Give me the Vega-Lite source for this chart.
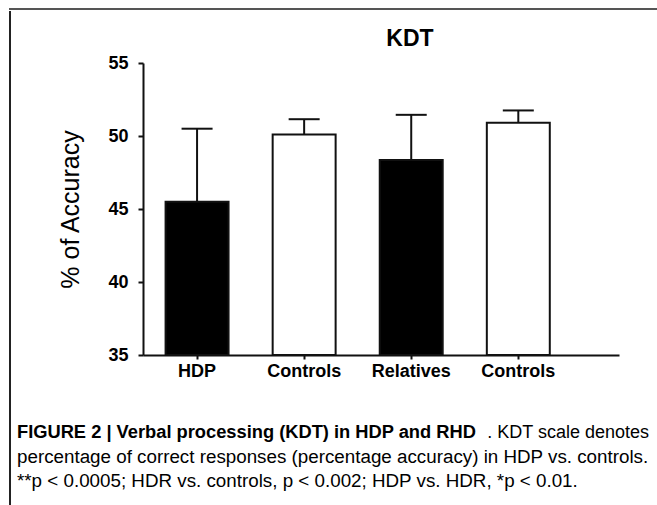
{
  "$schema": "https://vega.github.io/schema/vega-lite/v6.json",
  "padding": {"left": 9, "top": 8, "right": 0, "bottom": 0},
  "background": "white",
  "config": {
    "view": {"stroke": null},
    "font": "Liberation Sans, Arial, sans-serif"
  },
  "spacing": 0,
  "vconcat": [
    {
      "width": 647, "height": 0.001,
      "view": {"stroke": "#555", "strokeWidth": 2},
      "data": {"values": []},
      "mark": {"type": "point"},
      "encoding": {}
    },
    {
      "spacing": 5,
      "hconcat": [
        {
          "width": 0.001, "height": 496,
          "view": {"stroke": "#222", "strokeWidth": 2},
          "data": {"values": []},
          "mark": {"type": "point"},
          "encoding": {}
        },
        {
          "spacing": 15,
          "vconcat": [
            {
              "width": 0.001, "height": 0.001,
              "data": {"values": []},
              "mark": {"type": "point"},
              "encoding": {}
            },
            {
              "spacing": 41,
              "vconcat": [
                {
                  "title": {"text": "KDT", "fontSize": 23, "fontWeight": "bold", "color": "#000", "dx": 29, "offset": 3},
                  "width": 476,
                  "height": 292,
                  "data": {"values": [
                    {"group": "HDP", "kind": "patient", "mean": 45.5, "upper": 50.5},
                    {"group": "Controls_1", "kind": "control", "mean": 50.1, "upper": 51.15},
                    {"group": "Relatives", "kind": "patient", "mean": 48.35, "upper": 51.45},
                    {"group": "Controls_2", "kind": "control", "mean": 50.9, "upper": 51.75}
                  ]},
                  "encoding": {
                    "x": {
                      "field": "group", "type": "nominal", "sort": null,
                      "scale": {"paddingInner": 0.412, "paddingOuter": 0.4286, "align": 0.246},
                      "axis": {"title": null, "labelAngle": 0, "labelExpr": "split(datum.label, '_')[0]",
                               "tickSize": 4, "tickWidth": 2, "tickColor": "#111", "domainColor": "#111", "domainWidth": 2,
                               "labelFontSize": 18, "labelFontWeight": "bold", "labelColor": "#000", "labelPadding": 3}
                    }
                  },
                  "layer": [
                    {
                      "mark": {"type": "bar", "stroke": "#111", "strokeWidth": 2},
                      "encoding": {
                        "y": {"field": "mean", "type": "quantitative", "title": "% of Accuracy",
                              "scale": {"domain": [35, 55], "nice": false, "zero": false},
                              "axis": {"values": [35, 40, 45, 50, 55], "grid": false, "tickSize": 5, "tickWidth": 2,
                                       "tickColor": "#111", "domainColor": "#111", "domainWidth": 2,
                                       "labelFontSize": 18, "labelFontWeight": "bold", "labelColor": "#000", "labelPadding": 10,
                                       "titleFontSize": 25, "titleFontWeight": "normal", "titleColor": "#000", "titlePadding": 24}},
                        "y2": {"datum": 35},
                        "fill": {"field": "kind", "type": "nominal",
                                 "scale": {"domain": ["patient", "control"], "range": ["#000000", "#ffffff"]}, "legend": null}
                      }
                    },
                    {
                      "mark": {"type": "rule", "stroke": "#111", "strokeWidth": 2},
                      "encoding": {
                        "y": {"field": "mean", "type": "quantitative", "title": "% of Accuracy"},
                        "y2": {"field": "upper"}
                      }
                    },
                    {
                      "mark": {"type": "tick", "thickness": 2, "size": 31, "color": "#111", "opacity": 1},
                      "encoding": {
                        "y": {"field": "upper", "type": "quantitative", "title": "% of Accuracy"}
                      }
                    }
                  ]
                },
                {
                  "width": 476,
                  "height": 72,
                  "data": {"values": [
                    {"line": 1, "part": "lead", "text": "FIGURE 2 | Verbal processing (KDT) in HDP and RHD"},
                    {"line": 1, "part": "tail", "text": ". KDT scale denotes"},
                    {"line": 2, "part": "body", "text": "percentage of correct responses (percentage accuracy) in HDP vs. controls."},
                    {"line": 3, "part": "body", "text": "**p < 0.0005; HDR vs. controls, p < 0.002; HDP vs. HDR, *p < 0.01."}
                  ]},
                  "encoding": {
                    "y": {"field": "line", "type": "ordinal", "scale": {"type": "point", "padding": 0.5}, "axis": null},
                    "text": {"field": "text"}
                  },
                  "layer": [
                    {
                      "transform": [{"filter": "datum.part === 'lead'"}],
                      "mark": {"type": "text", "align": "left", "baseline": "middle", "fontWeight": "bold", "fontSize": 18.3, "dx": -126, "color": "#000"},
                      "encoding": {"x": {"datum": 0, "type": "quantitative", "scale": {"domain": [0, 1]}, "axis": null}}
                    },
                    {
                      "transform": [{"filter": "datum.part === 'tail'"}],
                      "mark": {"type": "text", "align": "right", "baseline": "middle", "fontSize": 18, "dx": 30, "color": "#000"},
                      "encoding": {"x": {"datum": 1, "type": "quantitative", "axis": null}}
                    },
                    {
                      "transform": [{"filter": "datum.part === 'body'"}],
                      "mark": {"type": "text", "align": "left", "baseline": "middle", "fontSize": 18.8, "dx": -126, "color": "#000"},
                      "encoding": {"x": {"datum": 0, "type": "quantitative", "axis": null}}
                    }
                  ]
                }
              ]
            }
          ]
        }
      ]
    }
  ]
}
